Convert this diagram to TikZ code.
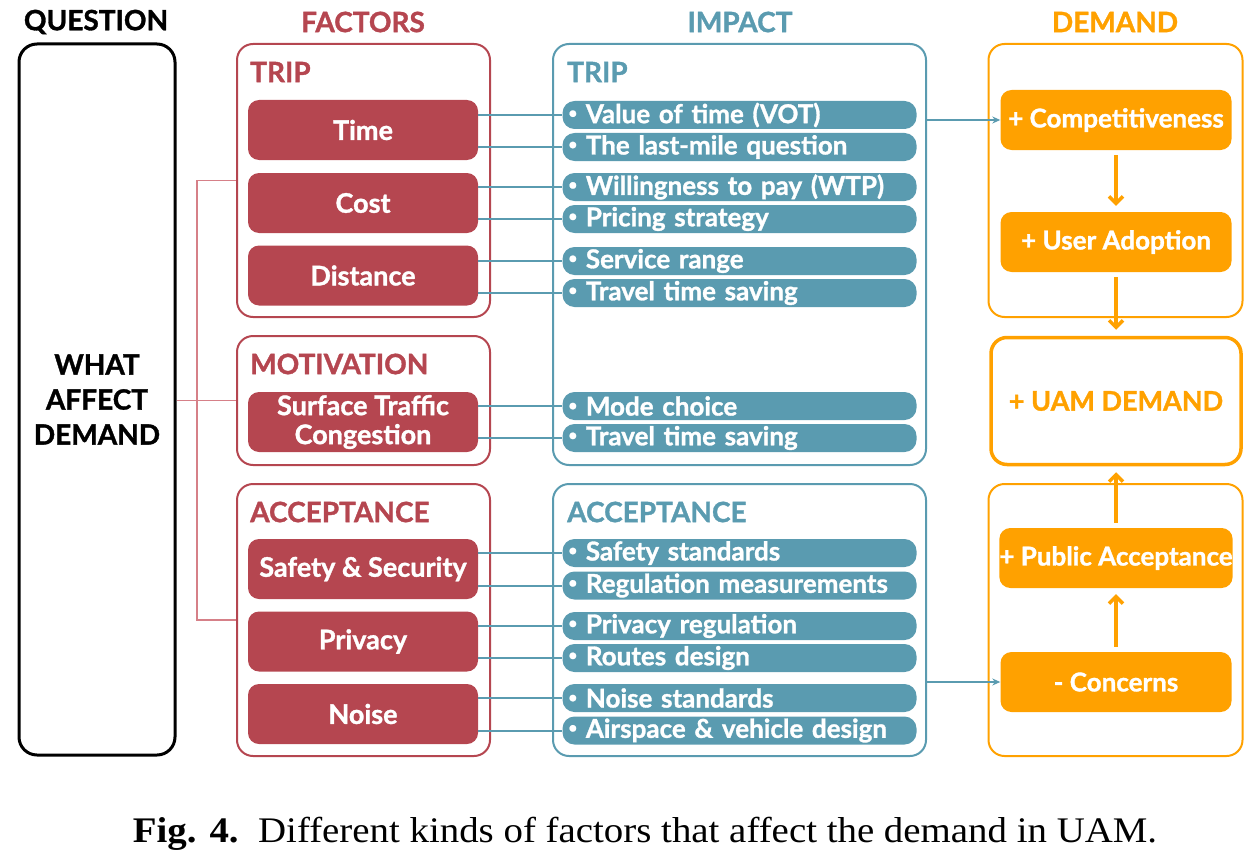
\documentclass[tikz,border=0pt]{standalone}
\usepackage{fontspec}
\setmainfont{Lato}[BoldFeatures={FakeBold=1.2}]
\newfontfamily\capfont{Liberation Serif}
\usepackage{tikz}
\usetikzlibrary{arrows.meta}

\definecolor{facred}{RGB}{181,70,80}
\definecolor{impteal}{RGB}{90,155,176}
\definecolor{demorg}{RGB}{255,161,0}
\definecolor{linkred}{RGB}{214,128,136}

\begin{document}
\begin{tikzpicture}[x=1pt, y=-1pt,
    head/.style={font=\fontsize{28}{30}\selectfont\bfseries},
    grouptitle/.style={anchor=west, inner sep=0pt, font=\fontsize{28}{30}\selectfont\bfseries},
    facgroup/.style={draw=facred, line width=2pt, rounded corners=16pt, minimum width=253pt},
    facitem/.style={fill=facred, text=white, rounded corners=11pt, minimum width=230pt, minimum height=60pt, inner sep=0pt, align=center, font=\fontsize{27}{29}\selectfont\bfseries},
    impgroup/.style={draw=impteal, line width=2pt, rounded corners=16pt, minimum width=373pt},
    impitem/.style={fill=impteal, text=white, rounded corners=12pt, minimum height=28pt, text width=342pt, inner xsep=6pt, inner ysep=0pt, align=left, font=\fontsize{26}{28}\selectfont\bfseries},
    demgroup/.style={draw=demorg, line width=2pt, rounded corners=16pt, minimum width=254pt},
    demitem/.style={fill=demorg, text=white, rounded corners=11pt, minimum width=231pt, minimum height=60pt, inner sep=0pt, font=\fontsize{26}{28}\selectfont\bfseries},
    tealline/.style={draw=impteal, line width=2pt},
    redline/.style={draw=linkred, line width=1.5pt},
    tealarrow/.style={draw=impteal, line width=1.5pt, -{Stealth[length=8pt,width=7pt]}},
    orgarrow/.style={draw=demorg, line width=3.5pt, -{Straight Barb[length=7pt,width=14pt]}, shorten <=5pt, shorten >=6pt}
  ]
    \useasboundingbox (0,0) rectangle (1260,864);

    % headers
    \node[head] (hq) at (96,22) {QUESTION};
    \node[head, text=facred] (hf) at (363,22) {FACTORS};
    \node[head, text=impteal] (hi) at (740,22) {IMPACT};
    \node[head, text=demorg] (hd) at (1115,22) {DEMAND};

    % question
    \node[draw=black, line width=3pt, rounded corners=18pt, minimum width=156pt, minimum height=711pt, align=center, font=\fontsize{28}{35}\selectfont\bfseries] (q) at (97,399.5) {WHAT\\AFFECT\\DEMAND};

    % factors
    \node[facgroup, minimum height=273pt] (ftrip) at (363.5,180.5) {};
    \node[facgroup, minimum height=129pt] (fmot) at (363.5,400.5) {};
    \node[facgroup, minimum height=272pt] (facc) at (363.5,620) {};
    \node[grouptitle, text=facred] (ftript) at (250,72) {TRIP};
    \node[grouptitle, text=facred] (fmott) at (250,364) {MOTIVATION};
    \node[grouptitle, text=facred] (facct) at (250,512) {ACCEPTANCE};

    \node[facitem] (time) at (363,130) {Time};
    \node[facitem] (cost) at (363,203) {Cost};
    \node[facitem] (dist) at (363,275.5) {Distance};
    \node[facitem] (stc) at (363,422) {Surface Traffic\\Congestion};
    \node[facitem] (safe) at (363,569) {Safety \& Security};
    \node[facitem] (priv) at (363,641.5) {Privacy};
    \node[facitem] (noise) at (363,714) {Noise};

    % impact
    \node[impgroup, minimum height=421pt] (itrip) at (739.5,254.5) {};
    \node[impgroup, minimum height=272pt] (iacc) at (739.5,620) {};
    \node[grouptitle, text=impteal] (itript) at (567,72) {TRIP};
    \node[grouptitle, text=impteal] (iacct) at (567,512) {ACCEPTANCE};

    \node[impitem] (vot) at (739.5,115) {\raisebox{5pt}{\fontsize{15}{15}\selectfont\textbullet}\ Value of time (VOT)};
    \node[impitem] (mile) at (739.5,147) {\raisebox{5pt}{\fontsize{15}{15}\selectfont\textbullet}\ The last-mile question};
    \node[impitem] (wtp) at (739.5,187) {\raisebox{5pt}{\fontsize{15}{15}\selectfont\textbullet}\ Willingness to pay (WTP)};
    \node[impitem] (price) at (739.5,219) {\raisebox{5pt}{\fontsize{15}{15}\selectfont\textbullet}\ Pricing strategy};
    \node[impitem] (range) at (739.5,261) {\raisebox{5pt}{\fontsize{15}{15}\selectfont\textbullet}\ Service range};
    \node[impitem] (ttsa) at (739.5,293) {\raisebox{5pt}{\fontsize{15}{15}\selectfont\textbullet}\ Travel time saving};
    \node[impitem] (mode) at (739.5,406) {\raisebox{5pt}{\fontsize{15}{15}\selectfont\textbullet}\ Mode choice};
    \node[impitem] (ttsb) at (739.5,438) {\raisebox{5pt}{\fontsize{15}{15}\selectfont\textbullet}\ Travel time saving};
    \node[impitem] (sstd) at (739.5,553) {\raisebox{5pt}{\fontsize{15}{15}\selectfont\textbullet}\ Safety standards};
    \node[impitem] (reg) at (739.5,585.5) {\raisebox{5pt}{\fontsize{15}{15}\selectfont\textbullet}\ Regulation measurements};
    \node[impitem] (preg) at (739.5,626) {\raisebox{5pt}{\fontsize{15}{15}\selectfont\textbullet}\ Privacy regulation};
    \node[impitem] (route) at (739.5,658) {\raisebox{5pt}{\fontsize{15}{15}\selectfont\textbullet}\ Routes design};
    \node[impitem] (nstd) at (739.5,698) {\raisebox{5pt}{\fontsize{15}{15}\selectfont\textbullet}\ Noise standards};
    \node[impitem] (air) at (739.5,730.5) {\raisebox{5pt}{\fontsize{15}{15}\selectfont\textbullet}\ Airspace \& vehicle design};

    % demand
    \node[demgroup, minimum height=273pt] (dtop) at (1115.5,180.5) {};
    \node[demgroup, minimum height=272pt] (dbot) at (1115.5,620) {};
    \node[draw=demorg, line width=3.5pt, rounded corners=16pt, minimum width=250pt, minimum height=127pt, text=demorg, font=\fontsize{27}{29}\selectfont\bfseries] (uam) at (1116,401) {+ UAM DEMAND};
    \node[demitem] (comp) at (1116,120) {+ Competitiveness};
    \node[demitem] (adopt) at (1116,242) {+ User Adoption};
    \node[demitem] (pubacc) at (1116,558) {+ Public Acceptance};
    \node[demitem] (concern) at (1116,682) {- Concerns};

    % links
    \coordinate (jx) at (197,400);
    \draw[redline] (ftrip.west) -| (jx) |- (facc.west);
    \draw[redline] (q.east |- fmot.west) to (fmot.west);

    \draw[tealline] (time.east |- vot) to (vot);
    \draw[tealline] (time.east |- mile) to (mile);
    \draw[tealline] (cost.east |- wtp) to (wtp);
    \draw[tealline] (cost.east |- price) to (price);
    \draw[tealline] (dist.east |- range) to (range);
    \draw[tealline] (dist.east |- ttsa) to (ttsa);
    \draw[tealline] (stc.east |- mode) to (mode);
    \draw[tealline] (stc.east |- ttsb) to (ttsb);
    \draw[tealline] (safe.east |- sstd) to (sstd);
    \draw[tealline] (safe.east |- reg) to (reg);
    \draw[tealline] (priv.east |- preg) to (preg);
    \draw[tealline] (priv.east |- route) to (route);
    \draw[tealline] (noise.east |- nstd) to (nstd);
    \draw[tealline] (noise.east |- air) to (air);

    \draw[tealarrow] (itrip.east |- comp) to (comp);
    \draw[tealarrow] (iacc.east |- concern) to (concern);

    \draw[orgarrow] (comp) to (adopt);
    \draw[orgarrow] (adopt) to (uam);
    \draw[orgarrow] (concern) to (pubacc);
    \draw[orgarrow] (pubacc) to (uam);

    % caption
    \node[font=\capfont\fontsize{36}{38}\selectfont] (cap) at (645,834) {\scalebox{1.08}[1]{\textbf{Fig. 4.}\ \ Different kinds of factors that affect the demand in UAM.}};

\end{tikzpicture}
\end{document}
